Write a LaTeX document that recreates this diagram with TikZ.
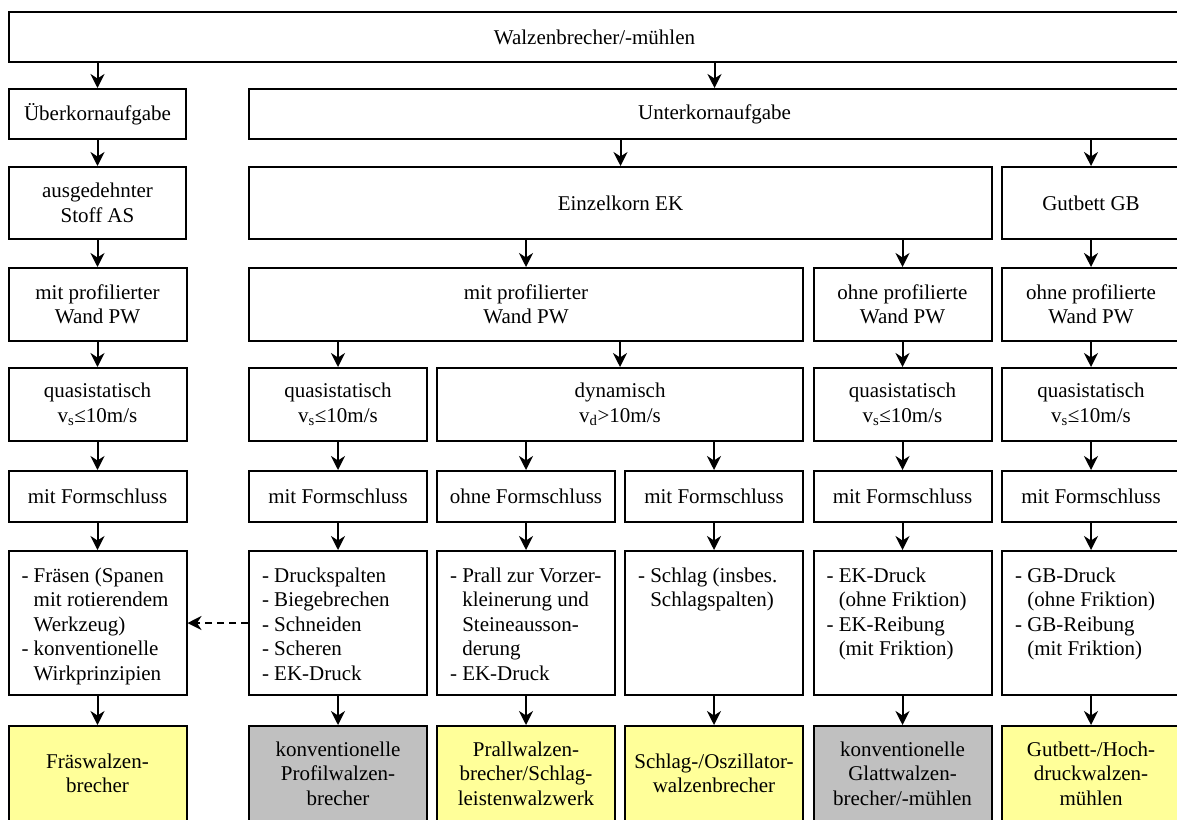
\documentclass[tikz,border=0pt]{standalone}
\usepackage{fontspec}
\setmainfont{Liberation Serif}
\usetikzlibrary{arrows.meta}
\definecolor{resyellow}{RGB}{255,255,153}
\definecolor{resgray}{RGB}{192,192,192}
% indentation of continuation lines in the lists
\newcommand\hangpad{\hphantom{-\ }}
% list text, top aligned inside a fixed-height box
\newcommand\listtext[1]{\parbox[c][116pt][t]{152pt}{\raggedright\strut#1}}

\begin{document}
\begin{tikzpicture}[x=1pt,y=-1pt,
  box/.style={draw=black, line width=2pt, rectangle, inner sep=0pt, align=center,
    font=\fontsize{21}{24.5}\selectfont},
  cell/.style={box, minimum width=178pt},
  rowa/.style={minimum height=50pt},
  rowb/.style={minimum height=72pt},
  rowc/.style={minimum height=73pt},
  rowd/.style={minimum height=51pt},
  listbox/.style={cell, minimum height=144pt, inner xsep=13pt, inner ysep=14pt},
  resbox/.style={cell, minimum height=95pt},
  yres/.style={resbox, fill=resyellow},
  gres/.style={resbox, fill=resgray},
  arr/.style={line width=2pt, -{Stealth[length=14pt,width=14pt,inset=4.5pt]}},
  dasharr/.style={arr, dash pattern=on 7pt off 5pt}
]
\useasboundingbox (0,0) rectangle (1177,819);
\clip (0,0) rectangle (1177,819);
\fill[white] (0,0) rectangle (1177,819);

% level 1 and 2
\node[box, rowa, minimum width=1171pt] (top) at (594.5,37) {Walzenbrecher/-mühlen};
\node[box, rowa, minimum width=177pt] (ueber) at (97.5,114) {Überkornaufgabe};
\node[box, rowa, minimum width=931pt] (unter) at (714.5,114) {Unterkornaufgabe};

% level 3
\node[box, rowb, minimum width=177pt] (as) at (97.5,203) {ausgedehnter\\Stoff AS};
\node[box, rowb, minimum width=743pt] (ek) at (620.5,203) {Einzelkorn EK};
\node[cell, rowb] (gb) at (1091,203) {Gutbett GB};

% level 4
\node[cell, rowc] (pwA) at (97.5,304.5) {mit profilierter\\Wand PW};
\node[box, rowc, minimum width=554pt] (pwB) at (526,304.5) {mit profilierter\\Wand PW};
\node[cell, rowc] (opwE) at (902.5,304.5) {ohne profilierte\\Wand PW};
\node[cell, rowc] (opwF) at (1091,304.5) {ohne profilierte\\Wand PW};

% level 5
\node[cell, rowc] (qsA) at (97.5,404.5) {quasistatisch\\v\textsubscript{s}≤10m/s};
\node[cell, rowc] (qsB) at (338,404.5) {quasistatisch\\v\textsubscript{s}≤10m/s};
\node[box, rowc, minimum width=366pt] (dyn) at (620,404.5) {dynamisch\\v\textsubscript{d}>10m/s};
\node[cell, rowc] (qsE) at (902.5,404.5) {quasistatisch\\v\textsubscript{s}≤10m/s};
\node[cell, rowc] (qsF) at (1091,404.5) {quasistatisch\\v\textsubscript{s}≤10m/s};

% level 6
\node[cell, rowd] (fA) at (97.5,496.5) {mit Formschluss};
\node[cell, rowd] (fB) at (338,496.5) {mit Formschluss};
\node[cell, rowd] (fC) at (526,496.5) {ohne Formschluss};
\node[cell, rowd] (fD) at (714,496.5) {mit Formschluss};
\node[cell, rowd] (fE) at (902.5,496.5) {mit Formschluss};
\node[cell, rowd] (fF) at (1091,496.5) {mit Formschluss};

% level 7: working principles
\node[listbox] (lA) at (97.5,623) {\listtext{- Fräsen (Spanen\\\hangpad mit rotierendem\\\hangpad Werkzeug)\\- konventionelle\\\hangpad Wirkprinzipien}};
\node[listbox] (lB) at (338,623) {\listtext{- Druckspalten\\- Biegebrechen\\- Schneiden\\- Scheren\\- EK-Druck}};
\node[listbox] (lC) at (526,623) {\listtext{- Prall zur Vorzer-\\\hangpad kleinerung und\\\hangpad Steineausson-\\\hangpad derung\\- EK-Druck}};
\node[listbox] (lD) at (714,623) {\listtext{- Schlag (insbes.\\\hangpad Schlagspalten)}};
\node[listbox] (lE) at (902.5,623) {\listtext{- EK-Druck\\\hangpad (ohne Friktion)\\- EK-Reibung\\\hangpad (mit Friktion)}};
\node[listbox] (lF) at (1091,623) {\listtext{- GB-Druck\\\hangpad (ohne Friktion)\\- GB-Reibung\\\hangpad (mit Friktion)}};

% level 8: machine types
\node[yres] (rA) at (97.5,773.5) {Fräswalzen-\\brecher};
\node[gres] (rB) at (338,773.5) {konventionelle\\Profilwalzen-\\brecher};
\node[yres] (rC) at (526,773.5) {Prallwalzen-\\brecher/Schlag-\\leistenwalzwerk};
\node[yres] (rD) at (714,773.5) {Schlag-/Oszillator-\\walzenbrecher};
\node[gres] (rE) at (902.5,773.5) {konventionelle\\Glattwalzen-\\brecher/-mühlen};
\node[yres] (rF) at (1091,773.5) {Gutbett-/Hoch-\\druckwalzen-\\mühlen};

% connectors
\draw[arr] (top.south -| ueber.north) -- (ueber.north);
\draw[arr] (top.south -| unter.north) -- (unter.north);
\draw[arr] (ueber.south) -- (as.north);
\draw[arr] (unter.south -| ek.north) -- (ek.north);
\draw[arr] (unter.south -| gb.north) -- (gb.north);
\draw[arr] (as.south) -- (pwA.north);
\draw[arr] (ek.south -| pwB.north) -- (pwB.north);
\draw[arr] (ek.south -| opwE.north) -- (opwE.north);
\draw[arr] (gb.south) -- (opwF.north);
\draw[arr] (pwA.south) -- (qsA.north);
\draw[arr] (pwB.south -| qsB.north) -- (qsB.north);
\draw[arr] (pwB.south -| dyn.north) -- (dyn.north);
\draw[arr] (opwE.south) -- (qsE.north);
\draw[arr] (opwF.south) -- (qsF.north);
\draw[arr] (qsA.south) -- (fA.north);
\draw[arr] (qsB.south) -- (fB.north);
\draw[arr] (dyn.south -| fC.north) -- (fC.north);
\draw[arr] (dyn.south -| fD.north) -- (fD.north);
\draw[arr] (qsE.south) -- (fE.north);
\draw[arr] (qsF.south) -- (fF.north);
\foreach \c in {A,B,C,D,E,F}{
  \draw[arr] (f\c.south) -- (l\c.north);
  \draw[arr] (l\c.south) -- (r\c.north);
}
\draw[dasharr] (lB.west) -- (lA.east);
\end{tikzpicture}
\end{document}
